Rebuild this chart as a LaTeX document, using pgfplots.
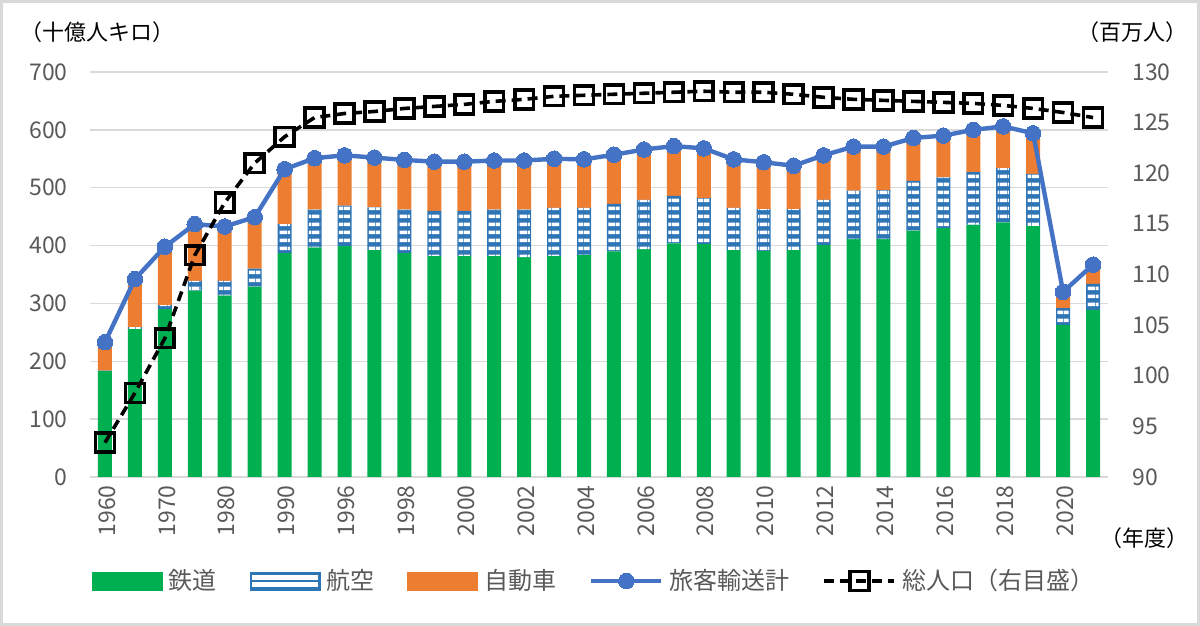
\documentclass[border=0pt]{standalone}
\usepackage{pgfplots}
\pgfplotsset{compat=1.18}
\usepackage{pgfplotstable}
\usepackage{fontspec}
\setmainfont{Noto Sans CJK JP}
\usetikzlibrary{patterns}
\definecolor{rail}{HTML}{00B050}
\definecolor{air}{HTML}{2E75B6}
\definecolor{autoc}{HTML}{ED7D31}
\definecolor{tot}{HTML}{4472C4}
\definecolor{gridc}{HTML}{D9D9D9}
\definecolor{lab}{HTML}{595959}
\pgfdeclarepatternformonly{hstripes}{\pgfqpoint{0pt}{0pt}}{\pgfqpoint{4pt}{3.85pt}}{\pgfqpoint{4pt}{3.85pt}}{%
  \pgfpathrectangle{\pgfqpoint{-0.1pt}{1pt}}{\pgfqpoint{4.2pt}{1.75pt}}\pgfusepath{fill}}

\pgfplotstableread{
i rail air auto total pop
0 183 1 49 233 93.4
1 256 3 83 342 98.3
2 290 7 101 398 103.7
3 322 17 98 437 111.9
4 314 25 94 433 117.1
5 329 31 89 449 121.0
6 387 50 95 532 123.6
7 397 65 89 551 125.5
8 399 70 87 556 125.9
9 392 74 86 552 126.1
10 387 75 86 548 126.4
11 382 78 85 545 126.6
12 382 78 85 545 126.8
13 382 80 85 547 127.1
14 380 82 85 547 127.3
15 382 83 85 550 127.6
16 384 81 84 549 127.7
17 390 82 85 557 127.8
18 394 85 87 566 127.9
19 404 82 86 572 128.0
20 403 79 86 568 128.1
21 392 73 84 549 128.0
22 391 72 81 544 128.0
23 392 71 75 538 127.8
24 401 78 77 556 127.5
25 411 84 76 571 127.3
26 411 85 75 571 127.2
27 426 86 74 586 127.1
28 430 88 72 590 127.0
29 436 91 73 600 126.9
30 440 94 72 606 126.7
31 434 90 70 594 126.4
32 263 29 28 320 126.0
33 289 45 33 367 125.5
}\datatable

\pgfplotsset{
  base/.style={
    at={(45pt,74.5pt)}, anchor=south west,
    scale only axis, width=509pt, height=202.5pt,
    xmin=-0.5, xmax=33.5,
    axis line style={draw=none},
    major tick length=0pt,
    /pgf/number format/assume math mode=true,
    tick label style={font=\fontsize{11.5}{12}\selectfont, text=lab},
  },
  linelegend/.style={legend image code/.code={\draw[mark repeat=2,mark phase=2,##1] plot coordinates {(0pt,0pt) (17.5pt,0pt) (35pt,0pt)};}},
  railleg/.style={legend image code/.code={\fill[rail] (0pt,-4.5pt) rectangle (35pt,4.5pt);}},
  autoleg/.style={legend image code/.code={\fill[autoc] (0pt,-4.5pt) rectangle (35pt,4.5pt);}},
  airleg/.style={legend image code/.code={\fill[air] (0pt,-4.5pt) rectangle (35pt,4.5pt);
   \fill[white] (1.2pt,-2.6pt) rectangle (33.8pt,-0.8pt);
   \fill[white] (1.2pt,0.8pt) rectangle (33.8pt,2.6pt);}},
}

\begin{document}
\begin{tikzpicture}
\useasboundingbox (0,0) rectangle (600pt,313pt);
\draw[gridc, line width=1.5pt] (0.75pt,0.75pt) rectangle (599.25pt,312.25pt);

% bars
\begin{axis}[base,
  ybar stacked, bar width=7pt,
  ymin=0, ymax=700, ytick={0,100,...,700},
  ymajorgrids, grid style={gridc, line width=0.75pt},
  xtick={0,2,...,32},
  xticklabels={1960,1970,1980,1990,1996,1998,2000,2002,2004,2006,2008,2010,2012,2014,2016,2018,2020},
  x tick label style={yshift=-4pt, xshift=1pt, rotate=90, anchor=east, inner sep=0pt},
  y tick label style={anchor=east, inner sep=0pt, xshift=-11pt},
]
\addplot[fill=rail, draw=none] table[x=i, y=rail] {\datatable};
\addplot[fill=air, draw=none] table[x=i, y=air] {\datatable};
\addplot[fill=autoc, draw=none] table[x=i, y=auto] {\datatable};
\end{axis}

% white stripes on the air bars
\begin{axis}[base, ybar stacked, bar width=5.6pt, ymin=0, ymax=700, xtick=\empty, ytick=\empty]
\addplot[fill=none, draw=none] table[x=i, y=rail] {\datatable};
\addplot[draw=none, pattern=hstripes, pattern color=white] table[x=i, y=air] {\datatable};
\end{axis}

% total line
\begin{axis}[base, ymin=0, ymax=700, xtick=\empty, ytick=\empty]
\addplot[tot, line width=2.2pt, mark=*, mark size=3.9pt, mark options={fill=tot, draw=tot, line width=0pt}]
  table[x=i, y=total] {\datatable};
\end{axis}

% population
\begin{axis}[base, ymin=90, ymax=130, ytick={90,95,...,130},
  xtick=\empty,
  ytick pos=right, yticklabel pos=right,
  y tick label style={anchor=west, inner sep=0pt, xshift=12pt},
  legend style={draw=none, fill=none, legend columns=5,
    font=\fontsize{12}{14}\selectfont, text=lab,
    at={(axis description cs:0.497,-0.2568)}, anchor=center,
    /tikz/every even column/.append style={column sep=13.5pt},
    nodes={inner sep=3pt}},
  legend cell align=left,
]
\addlegendimage{railleg}
\addlegendentry{鉄道}
\addlegendimage{airleg}
\addlegendentry{航空}
\addlegendimage{autoleg}
\addlegendentry{自動車}
\addlegendimage{linelegend, tot, line width=2.2pt, mark=*, mark size=3.9pt, mark options={fill=tot, draw=tot, line width=0pt}}
\addlegendentry{旅客輸送計}
\addplot[black, line width=1.8pt, dash pattern=on 5pt off 3pt, mark=square, mark size=4.7pt,
  mark options={solid, line width=1.8pt, fill=none}, linelegend]
  table[x=i, y=pop] {\datatable};
\addlegendentry{総人口（右目盛）}
\end{axis}

\node[font=\fontsize{11}{12}\selectfont, anchor=center] at (48.5pt,297pt) {（十億人キロ）};
\node[font=\fontsize{11}{12}\selectfont, anchor=center] at (566pt,297pt) {（百万人）};
\node[font=\fontsize{11}{12}\selectfont, anchor=center] at (572pt,44pt) {（年度）};
\end{tikzpicture}
\end{document}
